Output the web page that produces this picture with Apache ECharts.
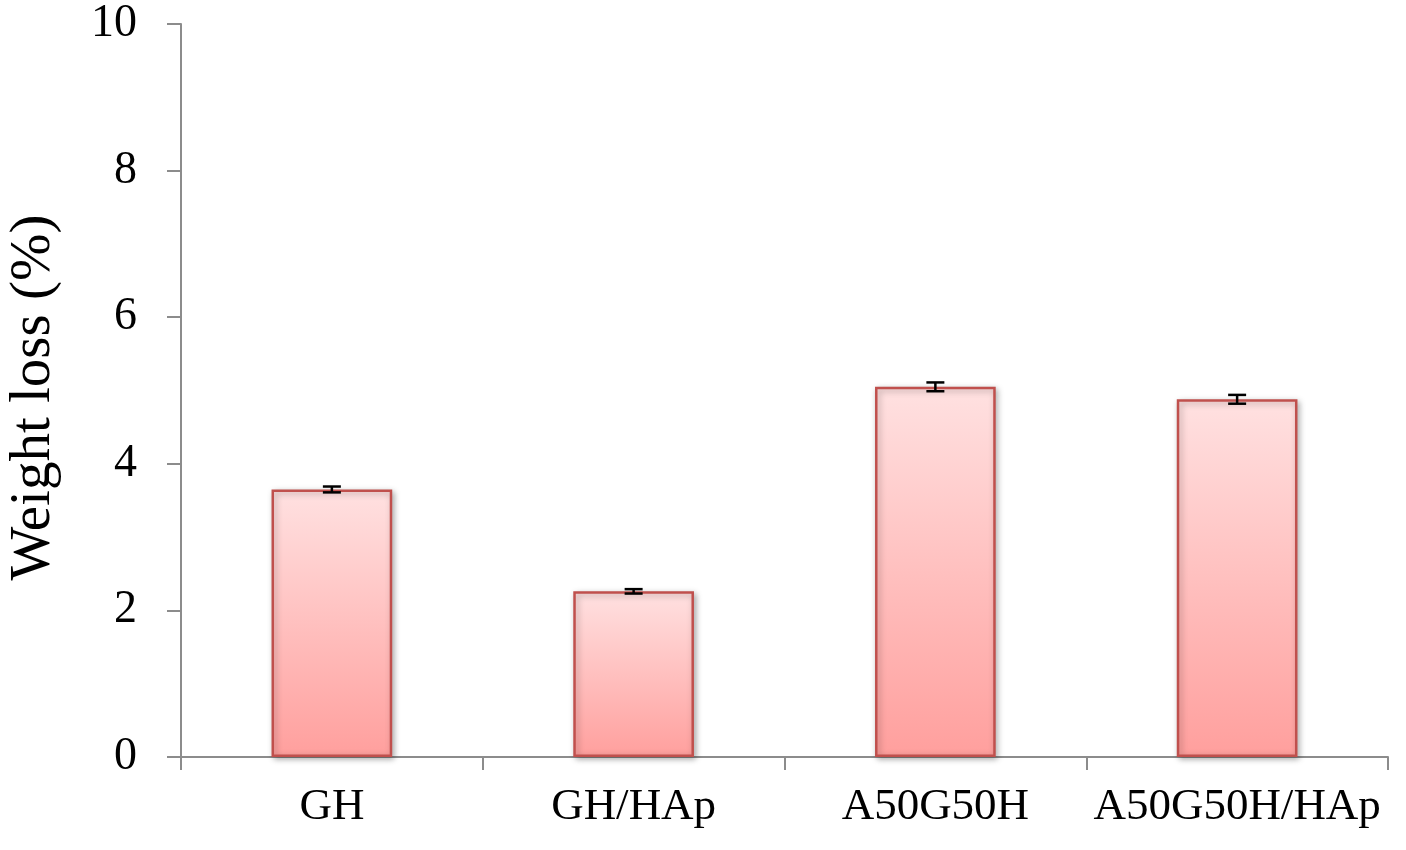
<!DOCTYPE html>
<html><head><meta charset="utf-8">
<script src="https://cdn.jsdelivr.net/npm/echarts@6/dist/echarts.min.js"></script>
<style>html,body{margin:0;padding:0;background:#fff}#c{width:1406px;height:850px}</style>
</head><body><div id="c"></div>
<script>
var categories = ['GH', 'GH/HAp', 'A50G50H', 'A50G50H/HAp'];
var values = [3.65, 2.26, 5.05, 4.88];
var errors = [0.04, 0.03, 0.06, 0.06];
var yTicks = [0, 2, 4, 6, 8, 10];

var chart = echarts.init(document.getElementById('c'));
var font = '"Liberation Serif", "Times New Roman", serif';
chart.setOption({
  animation: false,
  grid: {left: 181, top: 24, right: 18, bottom: 93, containLabel: false, outerBoundsMode: 'none'},
  xAxis: {
    type: 'category', data: categories,
    axisLine: {lineStyle: {color: '#8c8c8c', width: 2}},
    axisTick: {show: true, length: 13, lineStyle: {color: '#8c8c8c', width: 2}},
    axisLabel: {fontFamily: font, fontSize: 45, color: '#000', margin: 28, interval: 0}
  },
  yAxis: {
    type: 'value', min: yTicks[0], max: yTicks[yTicks.length-1], interval: 2,
    name: 'Weight loss (%)', nameLocation: 'middle', nameGap: 118, nameRotate: 90,
    nameTextStyle: {fontFamily: font, fontSize: 57, color: '#000', padding: [0, 14, 0, 0]},
    axisLine: {show: true, lineStyle: {color: '#8c8c8c', width: 2}},
    axisTick: {show: true, inside: false, length: 14, lineStyle: {color: '#8c8c8c', width: 2}},
    splitLine: {show: false},
    axisLabel: {fontFamily: font, fontSize: 46, color: '#000', margin: 44}
  },
  series: [{
    type: 'bar', data: values, barWidth: '40%',
    itemStyle: {
      color: new echarts.graphic.LinearGradient(0, 0, 0, 1, [
        {offset: 0, color: '#ffe1e1'}, {offset: 1, color: '#ff9f9d'}
      ]),
      borderColor: '#c0504d', borderWidth: 2.5,
      shadowColor: 'rgba(0,0,0,0.3)', shadowBlur: 6, shadowOffsetX: 2, shadowOffsetY: 2
    }
  }, {
    type: 'custom', z: 10,
    data: values.map(function(v, i){ return [i, v - errors[i], v + errors[i]]; }),
    renderItem: function(params, api){
      var lo = api.coord([api.value(0), api.value(1)]);
      var hi = api.coord([api.value(0), api.value(2)]);
      var hw = 9;
      var st = {stroke: '#000', lineWidth: 2.5};
      return {type: 'group', children: [
        {type: 'line', shape: {x1: lo[0], y1: lo[1], x2: hi[0], y2: hi[1]}, style: st},
        {type: 'line', shape: {x1: lo[0]-hw, y1: lo[1], x2: lo[0]+hw, y2: lo[1]}, style: st},
        {type: 'line', shape: {x1: hi[0]-hw, y1: hi[1], x2: hi[0]+hw, y2: hi[1]}, style: st}
      ]};
    }
  }]
});
</script></body></html>
